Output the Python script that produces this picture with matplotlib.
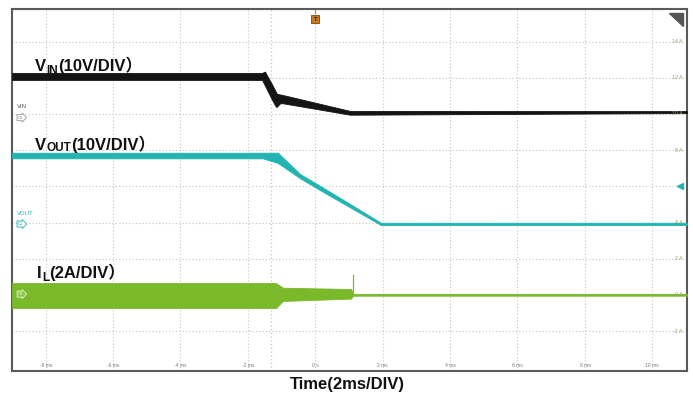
import matplotlib
matplotlib.use("Agg")
import matplotlib.pyplot as plt
from matplotlib.transforms import offset_copy, blended_transform_factory
from matplotlib.patches import Polygon

# ---- captured traces (time in ms, amplitude in screen units of 2 A/div) ----
# each noisy trace is stored as an upper / lower envelope
t_vin = [-9.0, -1.58, -1.49, -1.46, -1.28, -1.17, -1.14, -1.05, -0.99, 1.03, 11.03]
vin_hi = [12.27, 12.27, 12.34, 12.22, 11.62, 11.22, 11.12, 11.08, 11.06, 10.17, 10.16]
vin_lo = [11.88, 11.88, 11.55, 11.44, 10.77, 10.40, 10.40, 10.58, 10.60, 9.96, 10.05]

t_vout = [-9.0, -1.56, -1.11, -0.45, 0.17, 1.95, 11.03]
vout_hi = [7.86, 7.86, 7.86, 6.68, 6.00, 3.99, 3.99]
vout_lo = [7.55, 7.55, 7.29, 6.45, 5.76, 3.86, 3.86]

t_il = [-9.0, -1.17, -0.96, 1.06, 1.12, 11.03]
il_hi = [0.66, 0.66, 0.40, 0.33, 0.06, 0.06]
il_lo = [-0.72, -0.72, -0.33, -0.20, -0.04, -0.04]
il_spike_t = 1.13
il_spike_peak = 1.10

# ---- scope graticule ----
x_ticks = [-8, -6, -4, -2, 0, 2, 4, 6, 8, 10]
x_tick_labels = ["-8 ms", "-6 ms", "-4 ms", "-2 ms", "0 s", "2 ms", "4 ms", "6 ms", "8 ms", "10 ms"]
y_ticks = [-2, 0, 2, 4, 6, 8, 10, 12, 14]
y_tick_labels = ["-2 A", "0 A", "2 A", "4 A", "", "8 A", "10 A", "12 A", "14 A"]
cursor_t = -1.32

C_VIN = "#141414"
C_VOUT = "#22b4b0"
C_IL = "#79b92a"
FAM = ["Liberation Sans", "Noto Sans CJK SC", "DejaVu Sans"]

fig = plt.figure(figsize=(6.93, 4.01), dpi=100)
ax = fig.add_axes([12 / 693, 30 / 401, 675 / 693, 362 / 401])
ax.set_xlim(-9.0, 11.03)
ax.set_ylim(-4.2, 15.8)

ax.set_xticks(x_ticks)
ax.set_yticks(y_ticks)
ax.tick_params(length=0, labelbottom=False, labelleft=False)
ax.grid(True, color="#c4c4c4", linestyle=(0, (1, 2)), linewidth=0.8)
for s in ax.spines.values():
    s.set_color("#5a5a5a")
    s.set_linewidth(1.5)

ax.axvline(cursor_t, color="#f2b49a", linestyle=(0, (1, 2)), linewidth=0.9)

# traces
ax.fill_between(t_vin, vin_lo, vin_hi, color=C_VIN, linewidth=0.6, zorder=3)
ax.fill_between(t_vout, vout_lo, vout_hi, color=C_VOUT, linewidth=0.6, zorder=3)
ax.fill_between(t_il, il_lo, il_hi, color=C_IL, linewidth=0.6, zorder=3)
ax.plot([il_spike_t, il_spike_t], [0, il_spike_peak], color=C_IL, linewidth=0.9, zorder=3)

# graticule labels drawn inside the screen
bx = blended_transform_factory(ax.transData, ax.transAxes)
for xv, lab in zip(x_ticks, x_tick_labels):
    ax.text(xv, 0.014, lab, transform=bx, fontsize=3.6, color="#7a7a7a",
            ha="center", va="center", family=FAM)
by = blended_transform_factory(ax.transAxes, ax.transData)
for yv, lab in zip(y_ticks, y_tick_labels):
    if lab:
        ax.text(0.993, yv, lab, transform=by, fontsize=3.8, color="#a39c62",
                ha="right", va="center", family=FAM)

# channel markers on the left edge
ax.text(0.007, 10.4, "VIN", transform=by, fontsize=4.3, color="#555555",
        ha="left", va="center", family=FAM)
ax.text(0.009, 9.8, "C1", transform=by, fontsize=3.0, color="#777777", ha="left",
        va="center", family=FAM,
        bbox=dict(boxstyle="rarrow,pad=0.25", fc="white", ec="#999999", lw=0.6))
ax.text(0.007, 4.5, "VOUT", transform=by, fontsize=4.3, color=C_VOUT,
        ha="left", va="center", family=FAM)
ax.text(0.009, 3.92, "C2", transform=by, fontsize=3.0, color=C_VOUT, ha="left",
        va="center", family=FAM,
        bbox=dict(boxstyle="rarrow,pad=0.25", fc="white", ec=C_VOUT, lw=0.6))
ax.text(0.009, 0.05, "C4", transform=by, fontsize=3.0, color="white", ha="left",
        va="center", family=FAM, zorder=5,
        bbox=dict(boxstyle="rarrow,pad=0.25", fc="#8cc63f", ec="#e8f5d8", lw=0.6))

# offset marker on the right edge
ax.plot([0.99], [6.0], transform=by, marker="<", markersize=5, color=C_VOUT,
        clip_on=False, zorder=5)

# trigger marker at the top
ax.plot([0, 0], [0.99, 1.0], transform=bx, color="#e08a2a", linewidth=1.0, clip_on=False)
ax.plot([0], [0.972], transform=bx, marker="s", markersize=5.5, color="#c8781f",
        mec="#7a4512", mew=0.6, zorder=5)
ax.text(0, 0.972, "T", transform=bx, fontsize=3.5, color="#3a2208", ha="center",
        va="center", fontweight="bold", zorder=6)

# corner flag
ax.add_patch(Polygon([(0.973, 0.989), (0.994, 0.989), (0.994, 0.953)],
                     closed=True, transform=ax.transAxes, color="#555555", zorder=5))

# trace captions with subscripts
renderer = fig.canvas.get_renderer()


def caption(x, y, main, sub, rest, drop):
    kw = dict(fontsize=12, fontweight="bold", color="#111111", family=FAM, va="baseline",
              zorder=6)
    t1 = ax.text(x, y, main, **kw)
    w1 = t1.get_window_extent(renderer).width
    tr2 = offset_copy(ax.transData, fig=fig, x=w1, y=-drop, units="dots")
    t2 = ax.text(x, y, sub, transform=tr2, **{**kw, "fontsize": 8.5})
    w2 = t2.get_window_extent(renderer).width
    tr3 = offset_copy(ax.transData, fig=fig, x=w1 + w2, y=0, units="dots")
    ax.text(x, y, rest, transform=tr3, **kw)


caption(-8.32, 12.35, "V", "IN", "(10V/DIV）", 3)
caption(-8.32, 8.0, "V", "OUT", "(10V/DIV）", 1)
caption(-8.25, 0.95, "I", "L", "(2A/DIV）", 3)

fig.text(347 / 693, 1 - 385 / 401, "Time(2ms/DIV)", fontsize=12, fontweight="bold",
         ha="center", va="center", family=FAM, color="#111111")

fig.savefig("out.png", dpi=100)
